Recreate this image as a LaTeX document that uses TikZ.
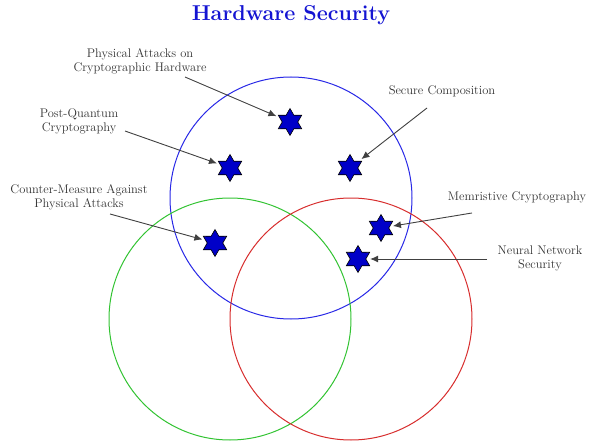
\documentclass[tikz,border=0pt]{standalone}
\usetikzlibrary{shapes.geometric,arrows.meta}
\definecolor{setblue}{RGB}{40,40,230}
\definecolor{setgreen}{RGB}{50,195,50}
\definecolor{setred}{RGB}{215,45,45}
\definecolor{starblue}{RGB}{0,0,200}
\definecolor{titleblue}{RGB}{20,20,210}
\begin{document}
\begin{tikzpicture}[x=1pt,y=-1pt,
  setline/.style={line width=1pt},
  topic/.style={star,star points=6,star point ratio=1.732,minimum size=27pt,
    inner sep=0pt,draw=black,fill=starblue,line width=0.6pt},
  lbl/.style={align=center,text=black!80,font=\fontsize{12.5}{14}\selectfont,inner sep=0pt},
  arr/.style={draw=black!75,line width=0.9pt,-{Latex[length=8pt,width=7pt]}}]
\useasboundingbox (0,0) rectangle (590,444);

% title
\node[font=\fontsize{21.5}{24}\selectfont\bfseries,text=titleblue] (title) at (291,15) {Hardware Security};

% the three sets
\draw[setline,setblue] (291,198) circle[radius=121];
\draw[setline,setgreen] (230,319) circle[radius=121];
\draw[setline,setred] (351,319) circle[radius=121];

% research topics
\node[topic] (s1) at (290,122) {};
\node[topic] (s2) at (230,168) {};
\node[topic] (s3) at (350,168) {};
\node[topic] (s4) at (215,243) {};
\node[topic] (s5) at (381,228) {};
\node[topic] (s6) at (358,259) {};

% labels
\node[lbl] (l1) at (140,61) {Physical Attacks on\\Cryptographic Hardware};
\node[lbl] (l2) at (79,121) {Post-Quantum\\Cryptography};
\node[lbl] (l3) at (79,197) {Counter-Measure Against\\Physical Attacks};
\node[lbl] (l4) at (442,91) {Secure Composition};
\node[lbl] (l5) at (517,197) {Memristive Cryptography};
\node[lbl] (l6) at (540,258) {Neural Network\\Security};

% arrow tails
\coordinate (t1) at (185,77);
\coordinate (t2) at (125,131);
\coordinate (t3) at (110,214);
\coordinate (t4) at (427,108);
\coordinate (t5) at (472,213);
\coordinate (t6) at (487,259);

\draw[arr,shorten >=3pt] (t1) -- (s1);
\draw[arr,shorten >=3pt] (t2) -- (s2);
\draw[arr,shorten >=3pt] (t3) -- (s4);
\draw[arr,shorten >=3pt] (t4) -- (s3);
\draw[arr,shorten >=3pt] (t5) -- (s5);
\draw[arr,shorten >=4pt] (t6) -- (s6);
\end{tikzpicture}
\end{document}
